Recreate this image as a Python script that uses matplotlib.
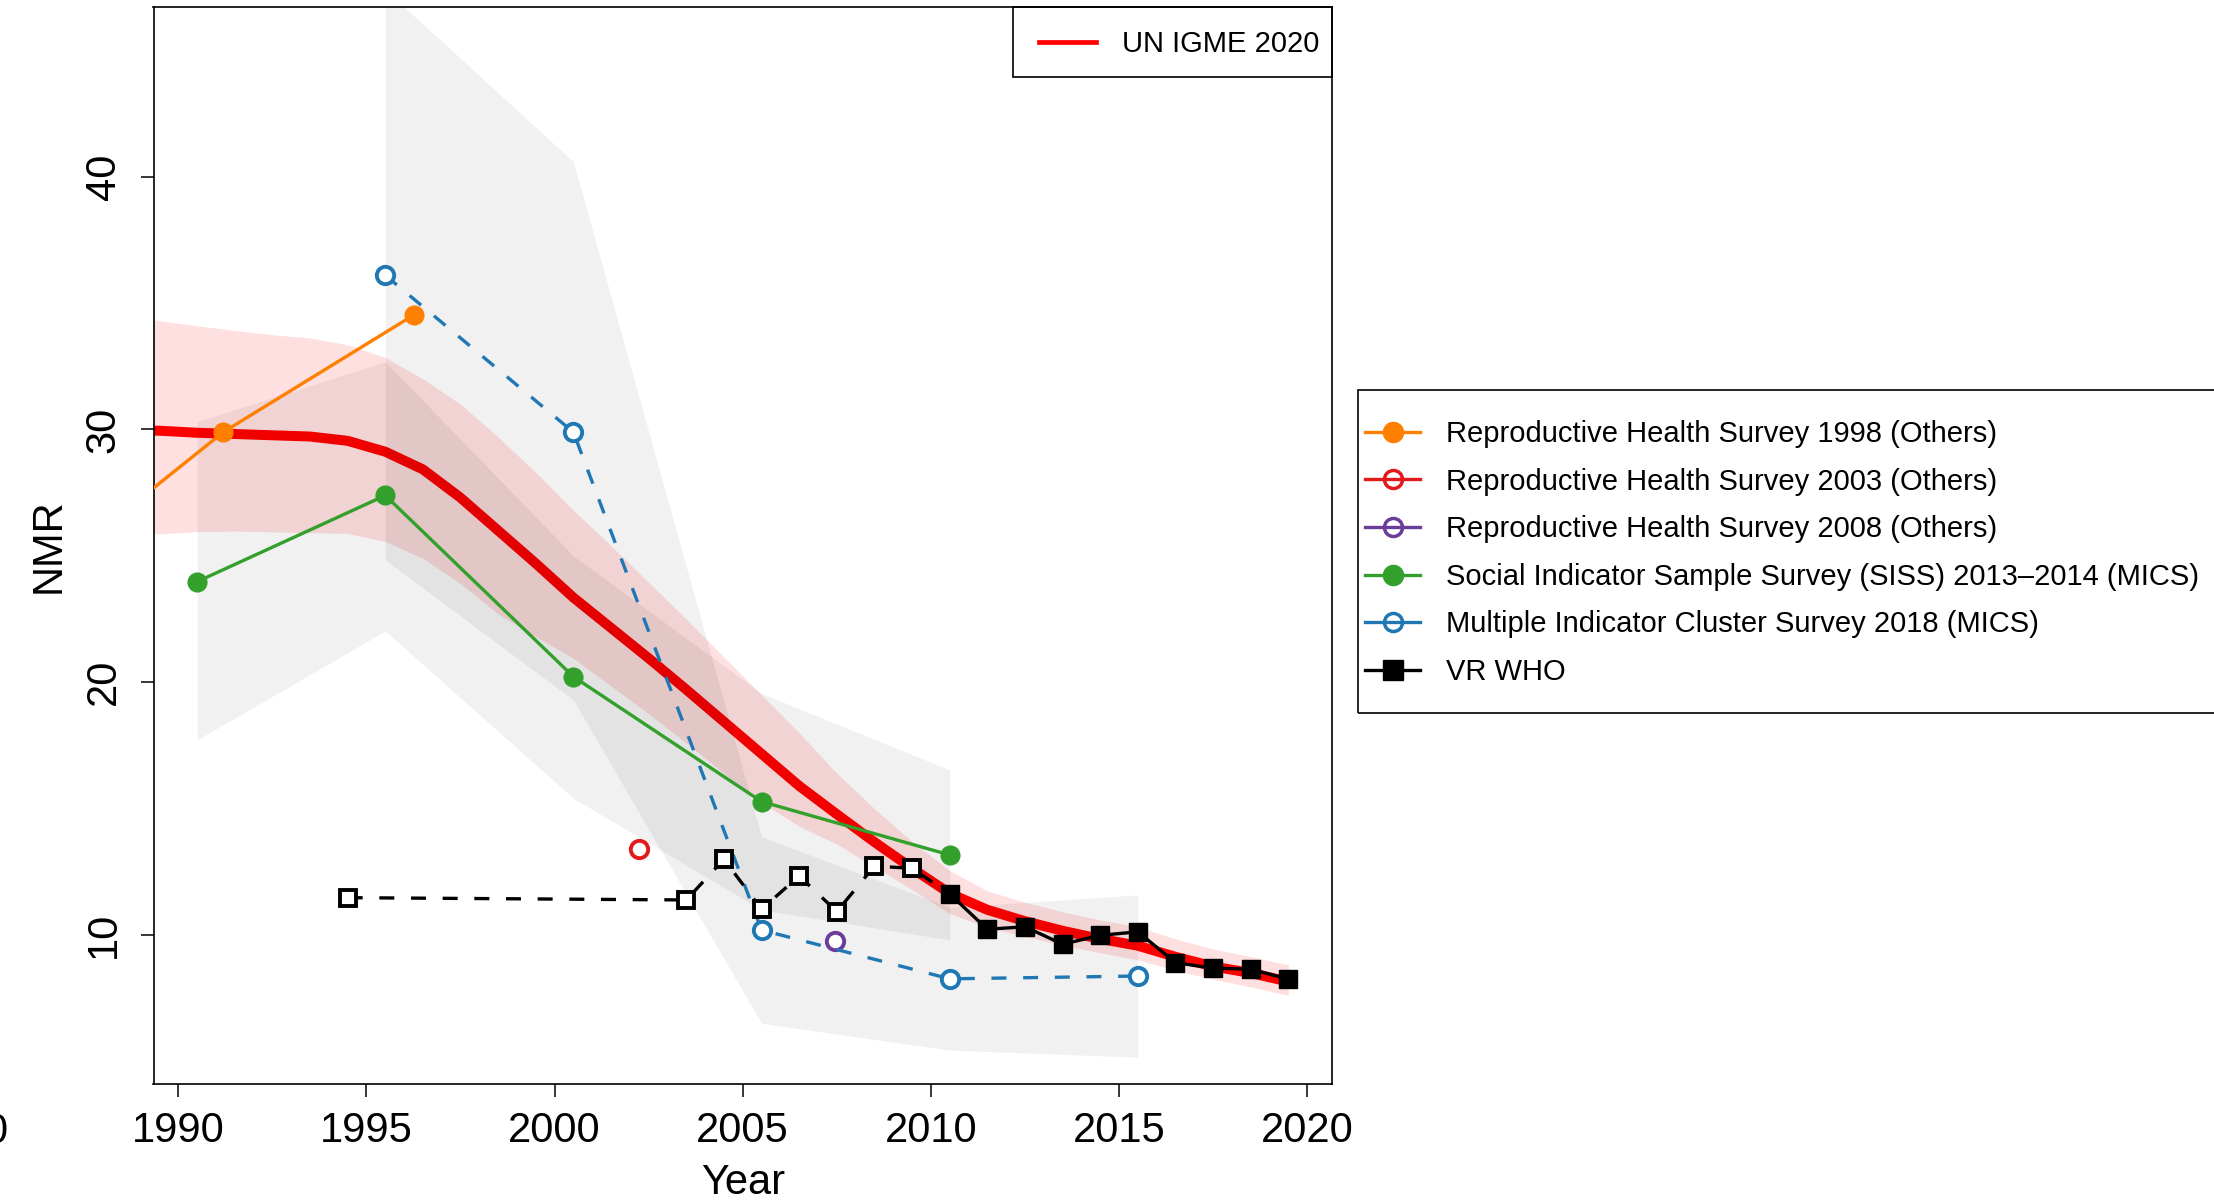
import matplotlib
matplotlib.use("Agg")
import matplotlib.pyplot as plt
from matplotlib.lines import Line2D
from matplotlib.patches import Rectangle

plt.rcParams['font.family'] = ['Liberation Sans', 'DejaVu Sans']

# UN IGME 2020 estimate with uncertainty band
igme_years = [1988.5, 1989.5, 1990.5, 1991.5, 1992.5, 1993.5, 1994.5, 1995.5,
              1996.5, 1997.5, 1998.5, 1999.5, 2000.5, 2001.5, 2002.5, 2003.5,
              2004.5, 2005.5, 2006.5, 2007.5, 2008.5, 2009.5, 2010.5, 2011.5,
              2012.5, 2013.5, 2014.5, 2015.5, 2016.5, 2017.5, 2018.5, 2019.5]
igme_nmr = [29.98, 29.95, 29.87, 29.82, 29.77, 29.72, 29.55, 29.12,
            28.42, 27.30, 26.00, 24.70, 23.35, 22.15, 20.95, 19.71,
            18.44, 17.17, 15.90, 14.78, 13.68, 12.64, 11.65, 11.00,
            10.55, 10.17, 9.85, 9.58, 9.14, 8.76, 8.50, 8.16]
igme_upper = [34.45, 34.30, 34.10, 33.92, 33.75, 33.62, 33.35, 32.85,
              32.00, 31.00, 29.70, 28.30, 26.80, 25.40, 23.95, 22.50,
              21.00, 19.50, 18.00, 16.40, 15.00, 13.70, 12.55, 11.75,
              11.30, 10.92, 10.60, 10.33, 9.85, 9.45, 9.15, 8.82]
igme_lower = [25.85, 25.87, 25.96, 25.98, 25.95, 25.92, 25.89, 25.57,
              24.90, 23.90, 22.70, 21.80, 20.95, 19.85, 18.75, 17.60,
              16.40, 15.25, 14.30, 13.60, 12.70, 11.80, 10.85, 10.30,
              9.95, 9.60, 9.30, 9.02, 8.60, 8.25, 7.95, 7.62]

# surveys
rhs1998_years = [1986.0, 1991.2, 1996.25]
rhs1998_nmr = [23.7, 29.9, 34.52]
rhs2003_years = [2002.25]
rhs2003_nmr = [13.4]
rhs2008_years = [2007.45]
rhs2008_nmr = [9.78]

siss_years = [1990.5, 1995.5, 2000.5, 2005.5, 2010.5]
siss_nmr = [23.98, 27.39, 20.22, 15.28, 13.17]
siss_lower = [17.72, 22.03, 15.41, 11.0, 9.81]
siss_upper = [30.31, 32.68, 25.0, 19.56, 16.53]

mics_years = [1995.5, 2000.5, 2005.5, 2010.5, 2015.5]
mics_nmr = [36.1, 29.89, 10.2, 8.27, 8.38]
mics_lower = [24.84, 19.3, 6.51, 5.45, 5.17]
mics_upper = [47.4, 40.59, 13.89, 11.1, 11.59]

# vital registration (excluded years drawn hollow)
vr_excl_years = [1994.5, 2003.5, 2004.5, 2005.5, 2006.5, 2007.5, 2008.5, 2009.5]
vr_excl_nmr = [11.48, 11.39, 13.0, 11.02, 12.34, 10.93, 12.73, 12.64]
vr_years = [2010.5, 2011.5, 2012.5, 2013.5, 2014.5, 2015.5, 2016.5, 2017.5, 2018.5, 2019.5]
vr_nmr = [11.63, 10.23, 10.33, 9.64, 9.99, 10.13, 8.91, 8.69, 8.65, 8.26]

c_orange = '#FF7F00'
c_red = '#E31A1C'
c_purple = '#6A3D9A'
c_green = '#33A02C'
c_blue = '#1F78B4'

W, H = 2214, 1201
fig = plt.figure(figsize=(W / 100, H / 100), dpi=100)
ax = fig.add_axes([153.5 / W, 1 - 1084 / H, (1332 - 153.5) / W, (1084 - 6.5) / H])

# bands and IGME line
ax.fill_between(igme_years, igme_lower, igme_upper, color='red', alpha=0.12, lw=0, zorder=1)
ax.plot(igme_years, igme_nmr, color='red', lw=7.2, zorder=2, solid_capstyle='butt')
ax.fill_between(siss_years, siss_lower, siss_upper, color='black', alpha=0.055, lw=0, zorder=3)
ax.fill_between(mics_years, mics_lower, mics_upper, color='black', alpha=0.055, lw=0, zorder=3)

# survey series
ax.plot(rhs1998_years, rhs1998_nmr, color=c_orange, lw=2.4, marker='o', ms=13.5,
        mfc=c_orange, mec=c_orange, mew=1, zorder=5)
ax.plot(rhs2003_years, rhs2003_nmr, ls='none', marker='o', ms=12.5, mfc='white',
        mec=c_red, mew=2.8, zorder=5)
ax.plot(rhs2008_years, rhs2008_nmr, ls='none', marker='o', ms=12.5, mfc='white',
        mec=c_purple, mew=2.8, zorder=5)
ax.plot(siss_years, siss_nmr, color=c_green, lw=2.4, marker='o', ms=13.5,
        mfc=c_green, mec=c_green, mew=1, zorder=5)
ax.plot(mics_years, mics_nmr, color=c_blue, lw=2.4, ls=(0, (4.5, 5)), marker='o', ms=12.5,
        mfc='white', mec=c_blue, mew=2.8, zorder=5)
ax.plot(vr_excl_years + vr_years[:1], vr_excl_nmr + vr_nmr[:1], color='black', lw=2.4,
        ls=(0, (4.5, 5)), zorder=5)
ax.plot(vr_excl_years, vr_excl_nmr, ls='none', marker='s', ms=12, mfc='white',
        mec='black', mew=2.8, zorder=6)
ax.plot(vr_years, vr_nmr, color='black', lw=2.4, marker='s', ms=13.5, mfc='black',
        mec='black', mew=1, zorder=6)

ax.set_xlim(1989.34, 2020.66)
ax.set_ylim(4.11, 46.73)
ax.set_xticks([1990, 1995, 2000, 2005, 2010, 2015, 2020])
ax.set_yticks([10, 20, 30, 40])
ax.tick_params(axis='both', labelsize=30, length=9.4, width=1.1, direction='out')
ax.tick_params(axis='x', pad=10)
ax.tick_params(axis='y', pad=12)
for lab in ax.get_yticklabels():
    lab.set_rotation(90)
    lab.set_va('center')
for sp in ax.spines.values():
    sp.set_linewidth(1.2)

ax.set_xlabel('Year', fontsize=30)
ax.set_ylabel('NMR', fontsize=30)
ax.xaxis.set_label_coords(0.5, -0.0735)
ax.yaxis.set_label_coords(-0.0717, 0.5)

# stray clipped tick label at the far left, as in the source image
fig.text(0.0035, 1 - 1112 / H, '0', ha='right', va='top', fontsize=30)

# legend 1: IGME
fs_leg = 21
fig.add_artist(Rectangle((1013.3 / W, 1 - 77.3 / H), 318.7 / W, 70.6 / H,
                         transform=fig.transFigure, fill=False, lw=1.2, ec='black'))
h_igme = Line2D([], [], color='red', lw=3.4)
leg1 = fig.legend([h_igme], ['UN IGME 2020'], loc='center left',
                  bbox_to_anchor=(1039 / W, 1 - 44.5 / H), frameon=False,
                  fontsize=fs_leg, borderpad=0, borderaxespad=0,
                  handlelength=1.95, handletextpad=0.88)

# legend 2: data sources
fig.add_artist(Rectangle((1358 / W, 1 - 713.3 / H), 1000 / W, 323.3 / H,
                         transform=fig.transFigure, fill=False, lw=1.2, ec='black'))
handles = [
    Line2D([], [], color=c_orange, lw=2.4, marker='o', ms=14.5, mfc=c_orange, mec=c_orange),
    Line2D([], [], color=c_red, lw=2.4, marker='o', ms=13, mfc='none', mec=c_red, mew=2.5),
    Line2D([], [], color=c_purple, lw=2.4, marker='o', ms=13, mfc='none', mec=c_purple, mew=2.5),
    Line2D([], [], color=c_green, lw=2.4, marker='o', ms=14.5, mfc=c_green, mec=c_green),
    Line2D([], [], color=c_blue, lw=2.4, marker='o', ms=13, mfc='none', mec=c_blue, mew=2.5),
    Line2D([], [], color='black', lw=2.4, marker='s', ms=14, mfc='black', mec='black'),
]
labels = ['Reproductive Health Survey 1998 (Others)',
          'Reproductive Health Survey 2003 (Others)',
          'Reproductive Health Survey 2008 (Others)',
          'Social Indicator Sample Survey (SISS) 2013\u20132014 (MICS)',
          'Multiple Indicator Cluster Survey 2018 (MICS)',
          'VR WHO']
leg2 = fig.legend(handles, labels, loc='center left',
                  bbox_to_anchor=(1365 / W, 1 - 553 / H), frameon=False,
                  fontsize=fs_leg, borderpad=0, borderaxespad=0, numpoints=1,
                  handlelength=1.9, handletextpad=0.89, labelspacing=0.67)

fig.savefig('out.png', dpi=100)
